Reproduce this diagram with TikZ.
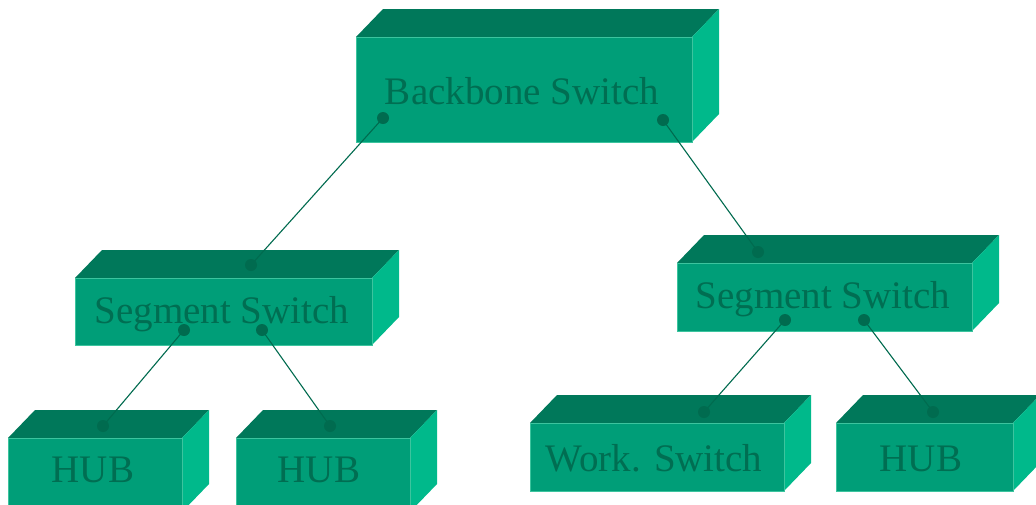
\documentclass[tikz,border=0pt]{standalone}
\usepackage{fontspec}
\setmainfont{Liberation Serif}
\definecolor{frontc}{HTML}{009E78}
\definecolor{topc}{HTML}{00785A}
\definecolor{sidec}{HTML}{00B98B}
\definecolor{edgec}{HTML}{3CC49E}
\definecolor{textc}{HTML}{006E52}
\definecolor{linec}{HTML}{006B4F}
\tikzset{
  topface/.style={fill=topc},
  sideface/.style={fill=sidec},
  frontface/.style={fill=frontc, draw=edgec, line width=1pt, inner sep=0pt, outer sep=0pt},
  lbl/.style={text=textc, font=\fontsize{39}{44}\selectfont, inner sep=0pt, anchor=base},
  conn/.style={draw=linec, line width=1.1pt},
  dotc/.style={fill=linec},
}
\newcommand\netbox[5]{%
  \fill[topface] (#2,#3) -- (#2+27,#3-28) -- (#4+27,#3-28) -- (#4,#3) -- cycle;
  \fill[sideface] (#4,#3) -- (#4+27,#3-28) -- (#4+27,#5-28) -- (#4,#5) -- cycle;
  \node[frontface, minimum width={(#4-#2)*1pt}, minimum height={(#5-#3)*1pt}] (#1) at ({(#2+#4)/2},{(#3+#5)/2}) {};
}
\begin{document}
\begin{tikzpicture}[x=1pt,y=-1pt]
\useasboundingbox (0,0) rectangle (1036,504);
\clip (0,0) rectangle (1036,504);
\fill[white] (0,0) rectangle (1036,504);
% boxes
\netbox{bb}{356}{37}{692}{142}
\netbox{sl}{75}{278}{372}{345}
\netbox{sr}{677}{263}{972}{331}
\netbox{ha}{8}{438}{182}{512}
\netbox{hb}{236}{438}{410}{512}
\netbox{ws}{530}{423}{784}{491}
\netbox{hc}{836}{423}{1013}{491}
% labels
\node[lbl] (tbb) at (522,104) {Backbone Switch};
\node[lbl] (tsl) at (222,323) {Segment Switch};
\node[lbl] (tsr) at (823,308) {Segment Switch};
\node[lbl] (tha) at (93,482) {HUB};
\node[lbl] (thb) at (319,482) {HUB};
\node[lbl] (tws) at (654,471) {Work. Switch};
\node[lbl] (thc) at (921,471) {HUB};
% connection points
\coordinate (bbL) at (383,118);
\coordinate (bbR) at (663,120);
\coordinate (slT) at (251,265);
\coordinate (slL) at (184,330);
\coordinate (slR) at (262,330);
\coordinate (srT) at (758,252);
\coordinate (srL) at (785,320);
\coordinate (srR) at (864,320);
\coordinate (haT) at (103,426);
\coordinate (hbT) at (330,426);
\coordinate (wsT) at (704,412);
\coordinate (hcT) at (933,412);
% connectors
\draw[conn] (bbL) -- (slT);
\draw[conn] (bbR) -- (srT);
\draw[conn] (slL) -- (haT);
\draw[conn] (slR) -- (hbT);
\draw[conn] (srL) -- (wsT);
\draw[conn] (srR) -- (hcT);
\foreach \p in {bbL,bbR,slT,slL,slR,srT,srL,srR,haT,hbT,wsT,hcT}
  \fill[dotc] (\p) circle (6pt);
\end{tikzpicture}
\end{document}
